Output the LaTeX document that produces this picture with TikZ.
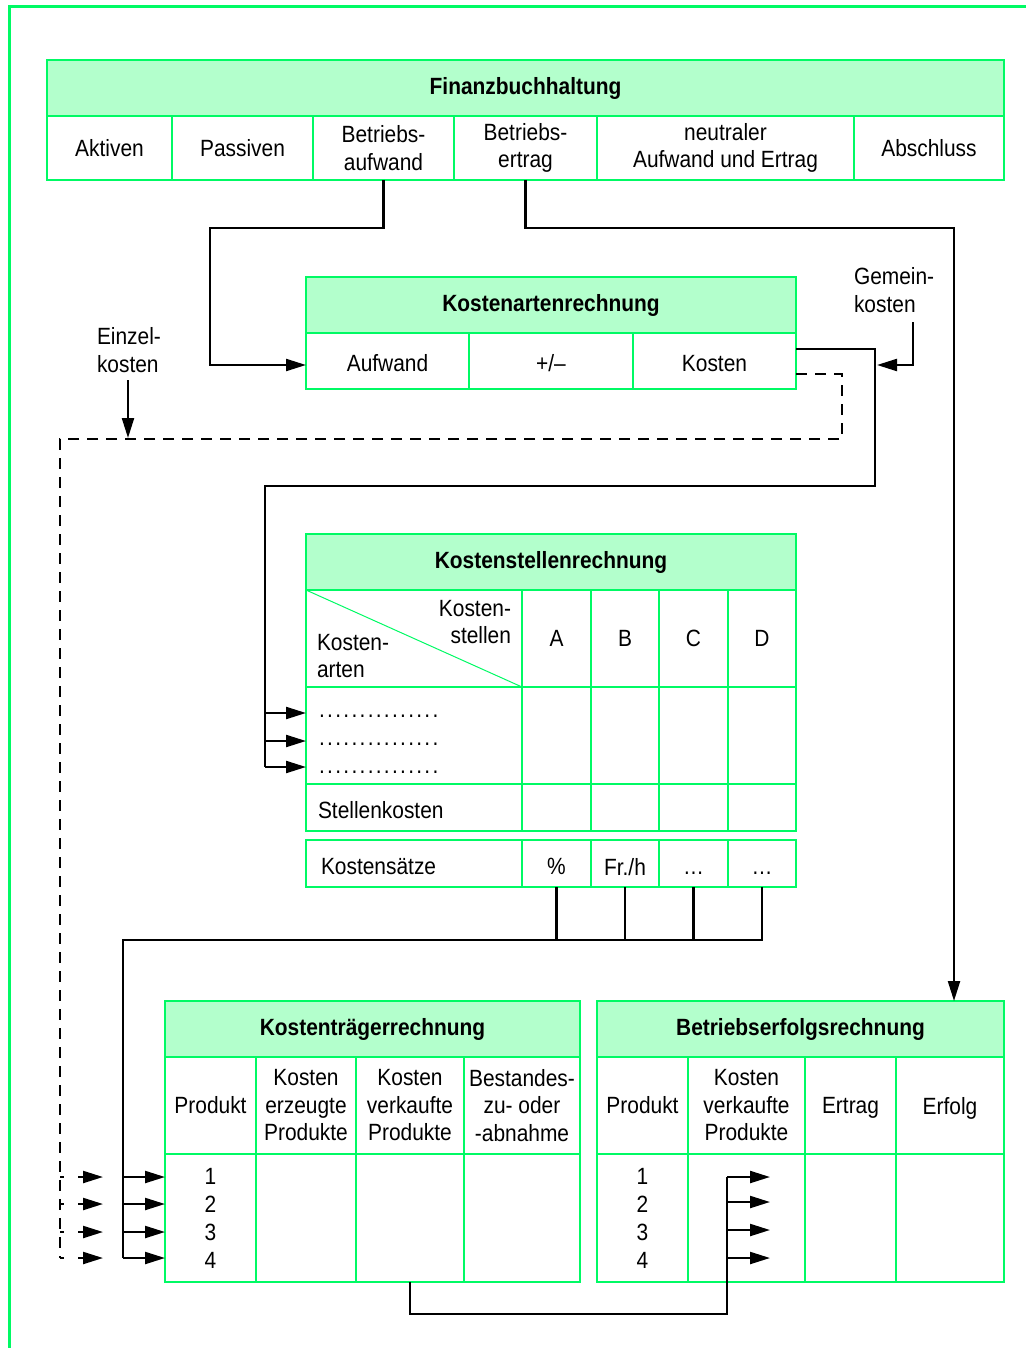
\documentclass[tikz,border=0pt]{standalone}
\usepackage{fontspec}
\setmainfont[FakeStretch=0.89]{Liberation Sans}
\usetikzlibrary{arrows.meta}
\definecolor{fgreen}{RGB}{0,250,100}
\definecolor{lgreen}{RGB}{179,255,204}
\newcommand\fs{\fontsize{23.5}{27.5}\selectfont}
\newcommand\dd{\makebox[8.1pt]{.}}
\newcommand\dotrow{\dd\dd\dd\dd\dd\dd\dd\dd\dd\dd\dd\dd\dd\dd\dd}
\newcommand\nodp[2]{\raisebox{#1}[\height][0pt]{#2}}
\begin{document}
\begin{tikzpicture}[x=1pt,y=-1pt,
  cell/.style={draw=fgreen,line width=2.5pt,inner sep=0pt,outer sep=0pt,anchor=north west,align=center,font=\fs},
  head/.style={cell,fill=lgreen,font=\fs\bfseries},
  txt/.style={inner sep=0pt,outer sep=0pt,font=\fs,align=left},
  conn/.style={line width=2.2pt,draw=black},
  arr/.style={conn,-{Triangle[length=20pt,width=12pt]}},
  dconn/.style={conn,dash pattern=on 11pt off 8pt},
  darr/.style={conn,dash pattern=on 4pt off 14pt on 40pt off 10pt,-{Triangle[length=20pt,width=12pt]}},
]
\useasboundingbox (0,0) rectangle (1026,1348);
\draw[fgreen,line width=3pt] (9,1348) -- (9,7) -- (1026,7);

% Finanzbuchhaltung
\node[head,minimum width=957pt,minimum height=56pt] (fb) at (47,60) {Finanzbuchhaltung};
\node[cell,minimum width=125pt,minimum height=64pt] (fb1) at (47,116) {Aktiven};
\node[cell,minimum width=141pt,minimum height=64pt] (fb2) at (172,116) {Passiven};
\node[cell,minimum width=141pt,minimum height=64pt] (ba) at (313,116) {Betriebs-\\aufwand};
\node[cell,minimum width=143pt,minimum height=64pt] (be) at (454,116) {Betriebs-\\ertrag};
\node[cell,minimum width=257pt,minimum height=64pt] (fb5) at (597,116) {neutraler\\Aufwand und Ertrag};
\node[cell,minimum width=150pt,minimum height=64pt] (fb6) at (854,116) {Abschluss};

% Kostenartenrechnung
\node[head,minimum width=490pt,minimum height=56pt] (ka) at (306,277) {Kostenartenrechnung};
\node[cell,minimum width=163pt,minimum height=56pt] (aufw) at (306,333) {\nodp{-2pt}{Aufwand}};
\node[cell,minimum width=164pt,minimum height=56pt] (pm) at (469,333) {\nodp{-2pt}{+/--}};
\node[cell,minimum width=163pt,minimum height=56pt] (kost) at (633,333) {\nodp{-2pt}{Kosten}};

% Kostenstellenrechnung
\node[head,minimum width=490pt,minimum height=56pt] (ks) at (306,534) {Kostenstellenrechnung};
\node[cell,minimum width=216pt,minimum height=97pt] (ksc) at (306,590) {};
\node[cell,minimum width=69pt,minimum height=97pt] (ksA) at (522,590) {A};
\node[cell,minimum width=68pt,minimum height=97pt] (ksB) at (591,590) {B};
\node[cell,minimum width=69pt,minimum height=97pt] (ksC) at (659,590) {C};
\node[cell,minimum width=68pt,minimum height=97pt] (ksD) at (728,590) {D};
\draw[fgreen,line width=1pt] (ksc.north west) -- (ksc.south east);
\node[txt,align=right,anchor=east] (kstl) at (511,622) {Kosten-\\stellen};
\node[txt,anchor=west] (kart) at (317,656) {Kosten-\\arten};

\node[cell,minimum width=216pt,minimum height=97pt] (ks21) at (306,687) {};
\node[cell,minimum width=69pt,minimum height=97pt] (ks22) at (522,687) {};
\node[cell,minimum width=68pt,minimum height=97pt] (ks23) at (591,687) {};
\node[cell,minimum width=69pt,minimum height=97pt] (ks24) at (659,687) {};
\node[cell,minimum width=68pt,minimum height=97pt] (ks25) at (728,687) {};
\node[txt,anchor=base west] (dr1) at (318,717) {\dotrow};
\node[txt,anchor=base west] (dr2) at (318,745) {\dotrow};
\node[txt,anchor=base west] (dr3) at (318,773) {\dotrow};

\node[cell,minimum width=216pt,minimum height=47pt] (ks31) at (306,784) {};
\node[cell,minimum width=69pt,minimum height=47pt] (ks32) at (522,784) {};
\node[cell,minimum width=68pt,minimum height=47pt] (ks33) at (591,784) {};
\node[cell,minimum width=69pt,minimum height=47pt] (ks34) at (659,784) {};
\node[cell,minimum width=68pt,minimum height=47pt] (ks35) at (728,784) {};
\node[txt,anchor=west] (stk) at (318,810) {Stellenkosten};

\node[cell,minimum width=216pt,minimum height=47pt] (ksS) at (306,840) {};
\node[cell,minimum width=69pt,minimum height=47pt] (ksP) at (522,840) {\nodp{-3pt}{\%}};
\node[cell,minimum width=68pt,minimum height=47pt] (ksF) at (591,840) {\nodp{-3pt}{Fr./h}};
\node[cell,minimum width=69pt,minimum height=47pt] (ksD1) at (659,840) {\nodp{-3pt}{\vphantom{Fr}…}};
\node[cell,minimum width=68pt,minimum height=47pt] (ksD2) at (728,840) {\nodp{-3pt}{\vphantom{Fr}…}};
\node[txt,anchor=west] (ksz) at (321,867) {Kostensätze};

% Kostentraegerrechnung
\node[head,minimum width=415pt,minimum height=56pt] (kt) at (165,1001) {Kostenträgerrechnung};
\node[cell,minimum width=91pt,minimum height=97pt] (kt1) at (165,1057) {Produkt};
\node[cell,minimum width=100pt,minimum height=97pt] (kt2) at (256,1057) {Kosten\\erzeugte\\Produkte};
\node[cell,minimum width=108pt,minimum height=97pt] (kt3) at (356,1057) {Kosten\\verkaufte\\Produkte};
\node[cell,minimum width=116pt,minimum height=97pt] (kt4) at (464,1057) {Bestandes-\\zu- oder\\-abnahme};
\node[cell,minimum width=91pt,minimum height=128pt,align=center] (ktb1) at (165,1154) {1\\[0.5pt]2\\[0.5pt]3\\[0.5pt]4};
\node[cell,minimum width=100pt,minimum height=128pt] (ktb2) at (256,1154) {};
\node[cell,minimum width=108pt,minimum height=128pt] (ktb3) at (356,1154) {};
\node[cell,minimum width=116pt,minimum height=128pt] (ktb4) at (464,1154) {};

% Betriebserfolgsrechnung
\node[head,minimum width=407pt,minimum height=56pt] (ber) at (597,1001) {Betriebserfolgsrechnung};
\node[cell,minimum width=91pt,minimum height=97pt] (be1) at (597,1057) {Produkt};
\node[cell,minimum width=117pt,minimum height=97pt] (be2) at (688,1057) {Kosten\\verkaufte\\Produkte};
\node[cell,minimum width=91pt,minimum height=97pt] (be3) at (805,1057) {\nodp{0pt}{Ertrag}};
\node[cell,minimum width=108pt,minimum height=97pt] (be4) at (896,1057) {\nodp{0pt}{Erfolg}};
\node[cell,minimum width=91pt,minimum height=128pt,align=center] (beb1) at (597,1154) {1\\[0.5pt]2\\[0.5pt]3\\[0.5pt]4};
\node[cell,minimum width=117pt,minimum height=128pt] (beb2) at (688,1154) {};
\node[cell,minimum width=91pt,minimum height=128pt] (beb3) at (805,1154) {};
\node[cell,minimum width=108pt,minimum height=128pt] (beb4) at (896,1154) {};

% labels
\node[txt,anchor=west] (gk) at (854,290) {Gemein-\\kosten};
\node[txt,anchor=west] (ek) at (97,350) {Einzel-\\kosten};

% coordinates
\coordinate (aIn) at (306,365);
\coordinate (c1) at (210,228);
\coordinate (beIn) at (954,1001);
\coordinate (kOut) at (796,349);
\coordinate (kDash) at (796,374);
\coordinate (c2) at (875,486);
\coordinate (ksi1) at (306,713);
\coordinate (ksi2) at (306,741);
\coordinate (ksi3) at (306,767);
\coordinate (gkS) at (913,322);
\coordinate (gkE) at (877,365);
\coordinate (ekS) at (128,380);
\coordinate (ekE) at (128,438);
\coordinate (d1) at (842,439);
\coordinate (dl1) at (60,1177);
\coordinate (dl2) at (60,1204);
\coordinate (dl3) at (60,1232);
\coordinate (dl4) at (60,1258);
\coordinate (hz) at (123,940);
\coordinate (sl1) at (123,1177);
\coordinate (sl2) at (123,1204);
\coordinate (sl3) at (123,1232);
\coordinate (sl4) at (123,1258);
\coordinate (bt) at (727,1314);
\coordinate (br1) at (727,1177);
\coordinate (br2) at (727,1202);
\coordinate (br3) at (727,1230);
\coordinate (br4) at (727,1258);

% connectors
\draw[arr] (ba.south) |- (c1) |- (aIn);
\draw[arr] (be.south) -- ++(0,48) -| (beIn);
\draw[conn] (kOut) -| (c2) -| (265,767);
\draw[arr] (265,713) -- (ksi1);
\draw[arr] (265,741) -- (ksi2);
\draw[arr] (265,767) -- (ksi3);
\draw[arr] (gkS) |- (gkE);
\draw[arr] (ekS) -- (ekE);
\draw[dconn] (kDash) -| (d1) -| (dl4);
\draw[darr] (dl1) -- ++(43,0);
\draw[darr] (dl2) -- ++(43,0);
\draw[darr] (dl3) -- ++(43,0);
\draw[darr] (dl4) -- ++(43,0);

\draw[conn] (ksP.south) -- (ksP.south |- hz);
\draw[conn] (ksF.south) -- (ksF.south |- hz);
\draw[conn] (ksD1.south) -- (ksD1.south |- hz);
\draw[conn] (ksD2.south) |- (hz) -- (sl4);
\draw[arr] (sl1) -- (sl1 -| kt1.west);
\draw[arr] (sl2) -- (sl2 -| kt1.west);
\draw[arr] (sl3) -- (sl3 -| kt1.west);
\draw[arr] (sl4) -- (sl4 -| kt1.west);

\draw[conn] (ktb3.south) |- (bt) -- (br1);
\draw[arr] (br1) -- ++(43,0);
\draw[arr] (br2) -- ++(43,0);
\draw[arr] (br3) -- ++(43,0);
\draw[arr] (br4) -- ++(43,0);
\end{tikzpicture}
\end{document}
